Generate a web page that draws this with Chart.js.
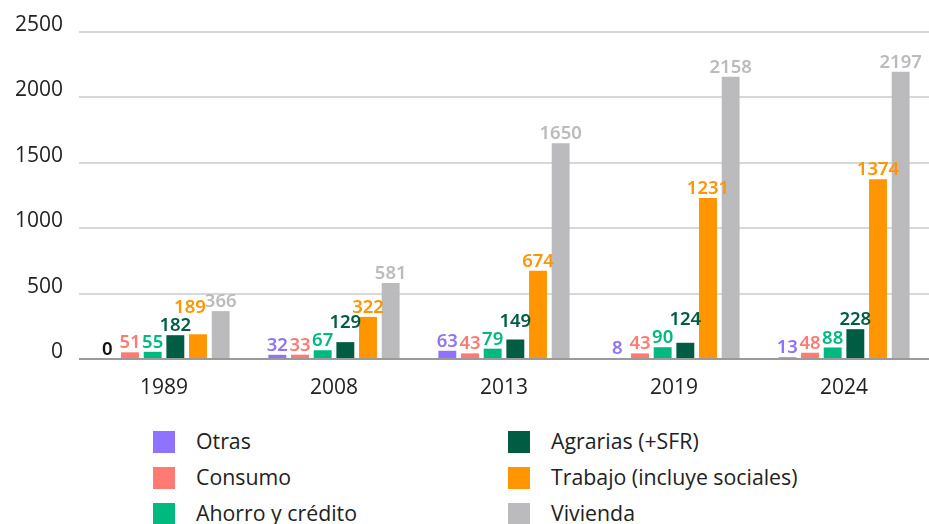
<!DOCTYPE html>
<html>
<head>
<meta charset="utf-8">
<script src="https://cdn.jsdelivr.net/npm/chart.js@4"></script>
<style>
  html, body { margin: 0; padding: 0; background: #fff; }
  #wrap { position: relative; width: 929px; height: 524px; overflow: hidden; }
  #box { position: absolute; left: 0; top: 0; width: 929px; height: 401px; }
  .leyenda { position: absolute; font-family: 'Open Sans', sans-serif; font-size: 21.3px; color: #222; }
  .item { position: absolute; white-space: nowrap; height: 24px; line-height: 24px; }
  .item span { position: absolute; left: 0; top: 1px; width: 22px; height: 22px; }
  .item em { font-style: normal; position: absolute; left: 43px; top: -1px; }
</style>
</head>
<body>
<div id="wrap">
  <div id="box"><canvas id="grafico"></canvas></div>
  <div class="leyenda" id="leyenda"></div>
</div>
<script>
// Años y series (número de cooperativas por tipo)
const anios = ['1989', '2008', '2013', '2019', '2024'];
const otras = [0, 32, 63, 8, 13];
const consumo = [51, 33, 43, 43, 48];
const ahorro = [55, 67, 79, 90, 88];
const agrarias = [182, 129, 149, 124, 228];
const trabajo = [189, 322, 674, 1231, 1374];
const vivienda = [366, 581, 1650, 2158, 2197];
const ticksY = [0, 500, 1000, 1500, 2000, 2500];

const series = [
    { label: 'Otras', data: otras, color: '#8f73ff' },
    { label: 'Consumo', data: consumo, color: '#ff7a72' },
    { label: 'Ahorro y crédito', data: ahorro, color: '#00b97e' },
    { label: 'Agrarias (+SFR)', data: agrarias, color: '#005c43' },
    { label: 'Trabajo (incluye sociales)', data: trabajo, color: '#ff9500' },
    { label: 'Vivienda', data: vivienda, color: '#bbbbbd' }
];

/** Etiquetas encima de cada barra: si chocan, sube la nueva o corre a la izquierda la ya desplazada */
const etiquetasPlugin = {
    id: 'etiquetas',
    afterDatasetsDraw(chart) {
        const ctx = chart.ctx;
        ctx.save();
        ctx.font = '600 18.5px "Noto Sans", sans-serif';
        ctx.textAlign = 'center';
        ctx.textBaseline = 'bottom';
        const alto = 16;
        anios.forEach((_, i) => {
            const puestos = [];
            series.forEach((s, d) => {
                const el = chart.getDatasetMeta(d).data[i];
                const val = s.data[i];
                const txt = String(val);
                const w = ctx.measureText(txt).width;
                const et = { x: el.x, w, abajo: el.y - 3, movida: false, txt, color: val === 0 ? '#111' : s.color };
                let choca = true;
                while (choca) {
                    choca = false;
                    for (const p of puestos) {
                        const solapaX = (p.x + p.w / 2) - (et.x - et.w / 2);
                        const solapaY = Math.min(et.abajo, p.abajo) - Math.max(et.abajo - alto, p.abajo - alto);
                        if (solapaX > 1 && solapaY > 3) {
                            if (p.movida) { p.x -= solapaX - 1; }
                            else { et.abajo = p.abajo - alto - 2; et.movida = true; choca = true; }
                        }
                    }
                }
                puestos.push(et);
            });
            puestos.forEach(p => { ctx.fillStyle = p.color; ctx.fillText(p.txt, p.x, p.abajo + 3); });
        });
        ctx.restore();
    }
};

new Chart(document.getElementById('grafico'), {
    type: 'bar',
    data: {
        labels: anios,
        datasets: series.map(s => ({
            label: s.label, data: s.data, backgroundColor: s.color,
            categoryPercentage: 0.8, barPercentage: 0.79
        }))
    },
    options: {
        responsive: true, maintainAspectRatio: false, animation: false,
        layout: { padding: { top: 32, right: 0, left: 0, bottom: 0 } },
        plugins: { legend: { display: false }, tooltip: { enabled: false } },
        scales: {
            x: {
                grid: { display: false },
                border: { display: false },
                ticks: { color: '#222', font: { family: 'Open Sans', size: 21 }, padding: 8 },
                afterFit: (s) => { s.height = 42; }
            },
            y: {
                min: 0, max: 2500,
                afterBuildTicks: (s) => { s.ticks = ticksY.map(v => ({ value: v })); },
                grid: {
                    color: (c) => c.tick && c.tick.value === 0 ? '#9a9a9a' : '#d8d8d8',
                    lineWidth: 2, drawTicks: false
                },
                border: { display: false },
                ticks: {
                    color: '#222', font: { family: 'Open Sans', size: 21 }, padding: 16, labelOffset: -7,
                    callback: (v) => String(v)
                },
                afterFit: (s) => { s.width = 79; }
            }
        }
    },
    plugins: [etiquetasPlugin]
});

// Leyenda en dos columnas (orden por columnas)
const leyenda = document.getElementById('leyenda');
series.forEach((s, k) => {
    const col = Math.floor(k / 3), fila = k % 3;
    const div = document.createElement('div');
    div.className = 'item';
    div.style.left = (153 + col * 355) + 'px';
    div.style.top = (430 + fila * 36) + 'px';
    div.innerHTML = `<span style="background:${s.color}"></span><em>${s.label}</em>`;
    leyenda.appendChild(div);
});
</script>
</body>
</html>
